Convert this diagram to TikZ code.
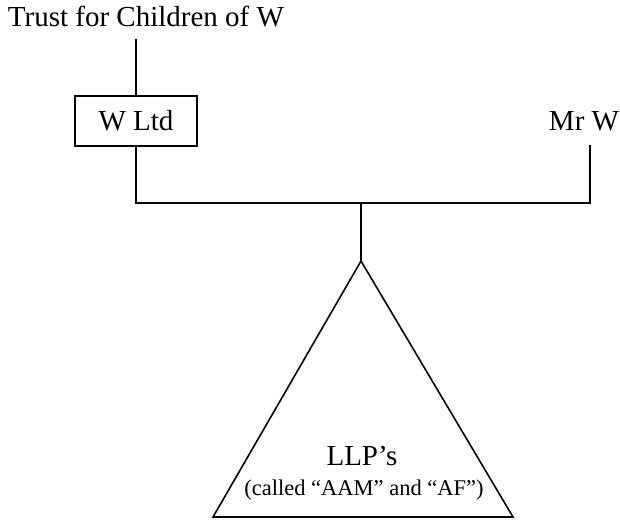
\documentclass[tikz,border=0pt]{standalone}
\usepackage{fontspec}
\setmainfont{Liberation Serif}
\begin{document}
\begin{tikzpicture}[x=1pt,y=-1pt,
  line width=1.6pt,
  every node/.style={font=\fontsize{29}{34}\selectfont, inner sep=0pt},
  entity/.style={draw, minimum width=122pt, minimum height=50pt},
  small/.style={font=\fontsize{22.5}{26}\selectfont}]
  \useasboundingbox (0,0) rectangle (620,519);
  % Owners
  \node[anchor=base] (trust) at (146,27) {Trust for Children of W};
  \node[entity] (wltd) at (136,121) {W Ltd};
  \node[anchor=base] (mrw) at (584,130) {Mr W};
  \coordinate (mrwfoot) at (590,145);
  \coordinate (junc) at (361,203);
  % LLP triangle
  \coordinate (apex) at (361,261);
  \coordinate (baseL) at (213,517);
  \coordinate (baseR) at (513,517);
  \draw (apex) -- (baseL) -- (baseR) -- cycle;
  \node[anchor=base] (llp) at (362,465) {LLP’s};
  \node[small, anchor=base] (called) at (364,495) {(called “AAM” and “AF”)};
  % Connectors
  \draw (wltd.north) -- ++(0,-56);
  \draw (wltd.south) |- (junc) -| (mrwfoot);
  \draw (junc) -- (apex);
\end{tikzpicture}
\end{document}
